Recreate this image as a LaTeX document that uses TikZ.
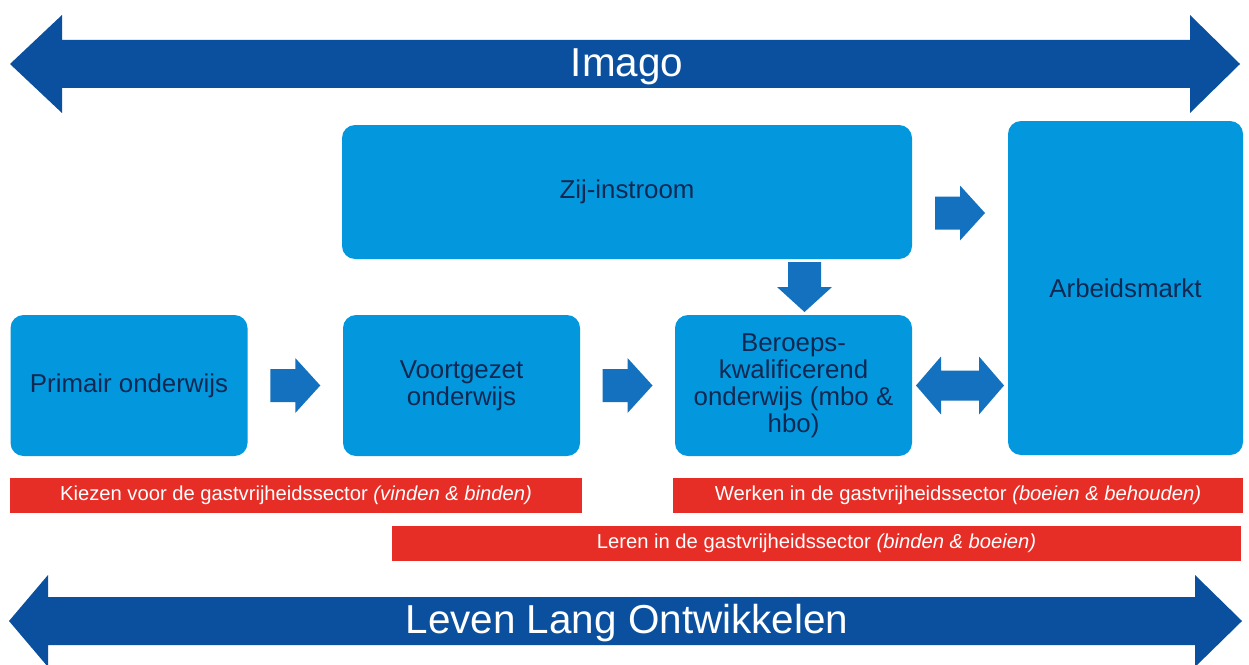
\documentclass[tikz,border=0pt]{standalone}
\usepackage{fontspec}
\setmainfont{Liberation Sans}
\usetikzlibrary{calc}
\tikzset{>=latex}
\definecolor{bigblue}{RGB}{11,80,158}
\definecolor{boxblue}{RGB}{3,152,221}
\definecolor{arrowblue}{RGB}{19,113,191}
\definecolor{barred}{RGB}{230,45,38}
\definecolor{labelblue}{RGB}{16,40,82}
\tikzstyle{box}=[fill=boxblue,rounded corners=0.26cm,text=labelblue,align=center,
  font=\fontsize{14.7}{15.4}\selectfont,minimum width=4.74cm,minimum height=2.82cm,inner sep=0pt]
\tikzstyle{bar}=[fill=barred,text=white,font=\fontsize{11.5}{13}\selectfont,
  minimum height=0.7cm,inner sep=0pt]
\tikzstyle{banner}=[text=white,font=\fontsize{23}{27}\selectfont]
\newcommand\fatarrow[3][arrowblue]{{
  \path (#2) coordinate (tmpA) (#3) coordinate (tmpB);
  \pgfmathanglebetweenpoints{\pgfpointanchor{tmpA}{center}}{\pgfpointanchor{tmpB}{center}}
  \edef\vang{\pgfmathresult} % direction of arrow
  \fill[#1,shift={($(tmpA)!0.5!(tmpB)$)},rotate=\vang]
    (-0.5,-0.33) -- (0,-0.33) -- (0,-0.55) -- (0.5,0)
    -- (0,0.55) -- (0,0.33) -- (-0.5,0.33) -- cycle;
}}
\newcommand\fatdarrow[3][arrowblue]{{
  \path (#2) coordinate (tmpA) (#3) coordinate (tmpB);
  \pgfmathanglebetweenpoints{\pgfpointanchor{tmpA}{center}}{\pgfpointanchor{tmpB}{center}}
  \edef\vang{\pgfmathresult} % direction of arrow
  \fill[#1,shift={($(tmpA)!0.5!(tmpB)$)},rotate=\vang]
    (-0.88,0) -- (-0.38,0.58) -- (-0.38,0.3) -- (0.38,0.3) -- (0.38,0.58)
    -- (0.88,0) -- (0.38,-0.58) -- (0.38,-0.3) -- (-0.38,-0.3) -- (-0.38,-0.58) -- cycle;
}}

\begin{document}
\begin{tikzpicture}
  \useasboundingbox (0,0) rectangle (24.98,-13.28);

  % BANNERS
  \fill[bigblue] (0.2,-1.28) -- (1.24,-0.3) -- (1.24,-0.8) -- (23.8,-0.8) -- (23.8,-0.3)
    -- (24.8,-1.28) -- (23.8,-2.26) -- (23.8,-1.76) -- (1.24,-1.76) -- (1.24,-2.26) -- cycle;
  \fill[bigblue] (0.18,-12.42) -- (0.96,-11.5) -- (0.96,-11.94) -- (23.9,-11.94) -- (23.9,-11.5)
    -- (24.84,-12.42) -- (23.9,-13.34) -- (23.9,-12.9) -- (0.96,-12.9) -- (0.96,-13.34) -- cycle;
  \node[banner] (IM) at (12.54,-1.34) {Imago};
  \node[banner] (LLO) at (12.54,-12.46) {Leven Lang Ontwikkelen};

  % BOXES
  \node[box,minimum width=11.4cm,minimum height=2.68cm] (ZI) at (12.54,-3.84) {Zij-instroom};
  \node[box,minimum width=4.7cm,minimum height=6.68cm] (AM) at (22.51,-5.76) {Arbeidsmarkt};
  \node[box] (PO) at (2.58,-7.71) {Primair onderwijs};
  \node[box] (VO) at (9.23,-7.71) {Voortgezet\\onderwijs};
  \node[box] (BO) at (15.87,-7.71) {Beroeps-\\kwalificerend\\onderwijs (mbo \&\\hbo)};

  % ARROWS
  \coordinate (ZB) at ($(BO.north)+(0.22,0)$); % foot of down arrow
  \coordinate (ZR) at ($(ZI.east)+(0,-0.42)$); % tail of arrow to market
  \fatarrow{PO.east}{VO.west}
  \fatarrow{VO.east}{BO.west}
  \fatarrow{ZB |- ZI.south}{ZB}
  \fatarrow{ZR}{ZR -| AM.west}
  \fatdarrow{BO.east}{BO.east -| AM.west}

  % PHASES
  \node[bar,minimum width=11.44cm] (KZ) at (5.92,-9.91)
    {Kiezen voor de gastvrijheidssector \textit{(vinden \& binden)}};
  \node[bar,minimum width=11.4cm] (WK) at (19.16,-9.91)
    {Werken in de gastvrijheidssector \textit{(boeien \& behouden)}};
  \node[bar,minimum width=16.98cm] (LR) at (16.33,-10.87)
    {Leren in de gastvrijheidssector \textit{(binden \& boeien)}};
\end{tikzpicture}
\end{document}
